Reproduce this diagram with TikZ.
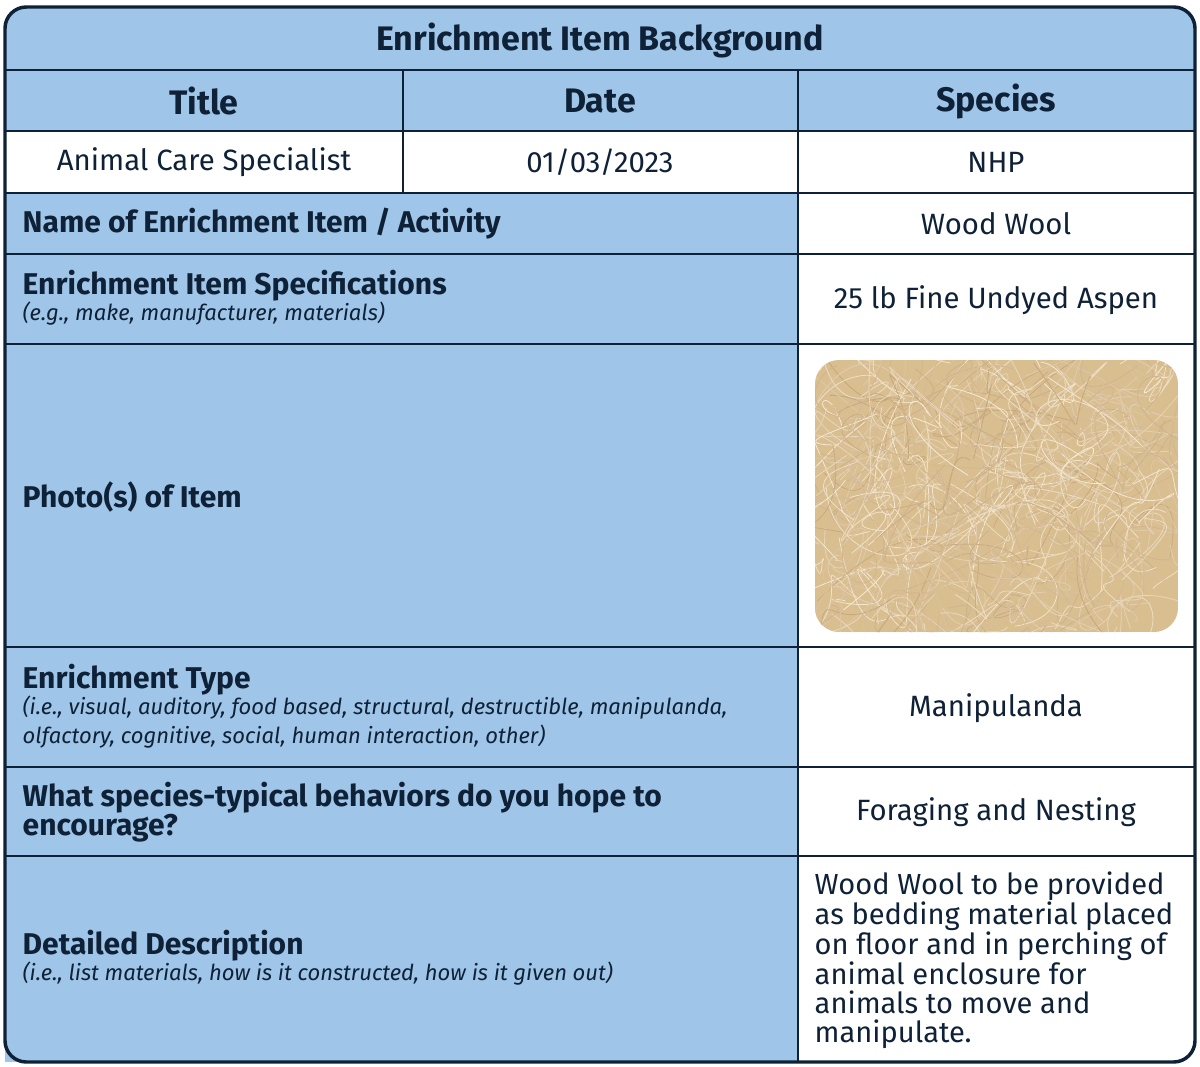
\documentclass[tikz,border=0pt]{standalone}
\usepackage{fontspec}
\setmainfont{Fira Sans}
\definecolor{navy}{HTML}{0F2137}
\definecolor{cellblue}{HTML}{9FC5E8}
\definecolor{woodA}{HTML}{D9BE90}
\definecolor{woodB}{HTML}{F6EBD6}
\definecolor{woodC}{HTML}{B08650}
\tikzset{
  grid/.style={draw=navy,line width=2.2pt},
  hdr/.style={font=\fontsize{25.5}{28}\selectfont\bfseries,text=navy,anchor=center},
  body/.style={font=\fontsize{22}{25}\selectfont,text=navy,anchor=center},
  lbl/.style={font=\fontsize{22.5}{25}\selectfont\bfseries,text=navy,anchor=west,align=left},
  sub/.style={font=\fontsize{16.5}{22}\selectfont\itshape,text=navy,anchor=west,align=left},
}
\begin{document}
\begin{tikzpicture}[x=0.75pt,y=-0.75pt]
\useasboundingbox (0,0) rectangle (1200,1067);
% background
\fill[cellblue,rounded corners=16pt] (5,7) rectangle (1195,1062);
\fill[white] (5,131) rectangle (1195,193);
\fill[white] (798,193) rectangle (1195,1062);
\fill[white,rounded corners=16pt] (798,1000) rectangle (1195,1062);
\fill[cellblue] (5,1000) rectangle (798,1062);
\fill[cellblue,rounded corners=16pt] (5,900) rectangle (100,1062);
% photo
\begin{scope}
\clip[rounded corners=18pt] (815,360) rectangle (1178,632);
\fill[woodA] (815,360) rectangle (1178,632);
\pgfmathsetseed{7}
\foreach \i in {1,...,420}{
  \pgfmathsetmacro\ax{815+rnd*363}
  \pgfmathsetmacro\ay{360+rnd*272}
  \pgfmathsetmacro\bx{\ax+(rnd-0.5)*160}
  \pgfmathsetmacro\by{\ay+(rnd-0.5)*160}
  \pgfmathsetmacro\cx{\ax+(rnd-0.5)*160}
  \pgfmathsetmacro\cy{\ay+(rnd-0.5)*160}
  \pgfmathsetmacro\dx{\ax+(rnd-0.5)*180}
  \pgfmathsetmacro\dy{\ay+(rnd-0.5)*180}
  \pgfmathsetmacro\m{30+rnd*70}
  \draw[color=woodB!\m!woodC,line width=0.6pt] (\ax,\ay) .. controls (\bx,\by) and (\cx,\cy) .. (\dx,\dy);
}
\end{scope}
% grid lines
\draw[grid] (5,70) -- (1195,70);
\foreach \y in {131,193,254,344,647,767,856} \draw[grid] (5,\y) -- (1195,\y);
\draw[grid] (403,70) -- (403,193);
\draw[grid] (798,70) -- (798,1062);
\draw[navy,line width=2.6pt,rounded corners=16pt] (5,7) rectangle (1195,1062);
% texts
\node[hdr] (t0) at (600,40) {Enrichment Item Background};
\node[hdr] (t1) at (204,101) {Title};
\node[hdr] (t2) at (600,101) {Date};
\node[hdr] (t3) at (996,101) {Species};
\node[body] (v1) at (204,162) {Animal Care Specialist};
\node[body] (v2) at (600,162) {01/03/2023};
\node[body] (v3) at (996,162) {NHP};
\node[lbl] (l1) at (18,224) {Name of Enrichment Item / Activity};
\node[body] (r1) at (996,224) {Wood Wool};
\node[lbl] (l2) at (18,286) {Enrichment Item Specifications};
\node[sub] (s2) at (18,314) {(e.g., make, manufacturer, materials)};
\node[body] (r2) at (996,300) {25 lb Fine Undyed Aspen};
\node[lbl] (l3) at (18,497) {Photo(s) of Item};
\node[lbl] (l4) at (18,680) {Enrichment Type};
\node[sub] (s4) at (18,722) {(i.e., visual, auditory, food based, structural, destructible, manipulanda,\\olfactory, cognitive, social, human interaction, other)};
\node[body] (r4) at (996,708) {Manipulanda};
\node[lbl,font=\fontsize{22.5}{22}\selectfont\bfseries] (l5) at (18,812) {What species-typical behaviors do you hope to\\encourage?};
\node[body] (r5) at (996,812) {Foraging and Nesting};
\node[lbl] (l6) at (18,946) {Detailed Description};
\node[sub] (s6) at (18,974) {(i.e., list materials, how is it constructed, how is it given out)};
\node[body,anchor=west,align=left,font=\fontsize{21.8}{21.6}\selectfont] (r6) at (810,960) {Wood Wool to be provided\\as bedding material placed\\on floor and in perching of\\animal enclosure for\\animals to move and\\manipulate.};
\end{tikzpicture}
\end{document}
